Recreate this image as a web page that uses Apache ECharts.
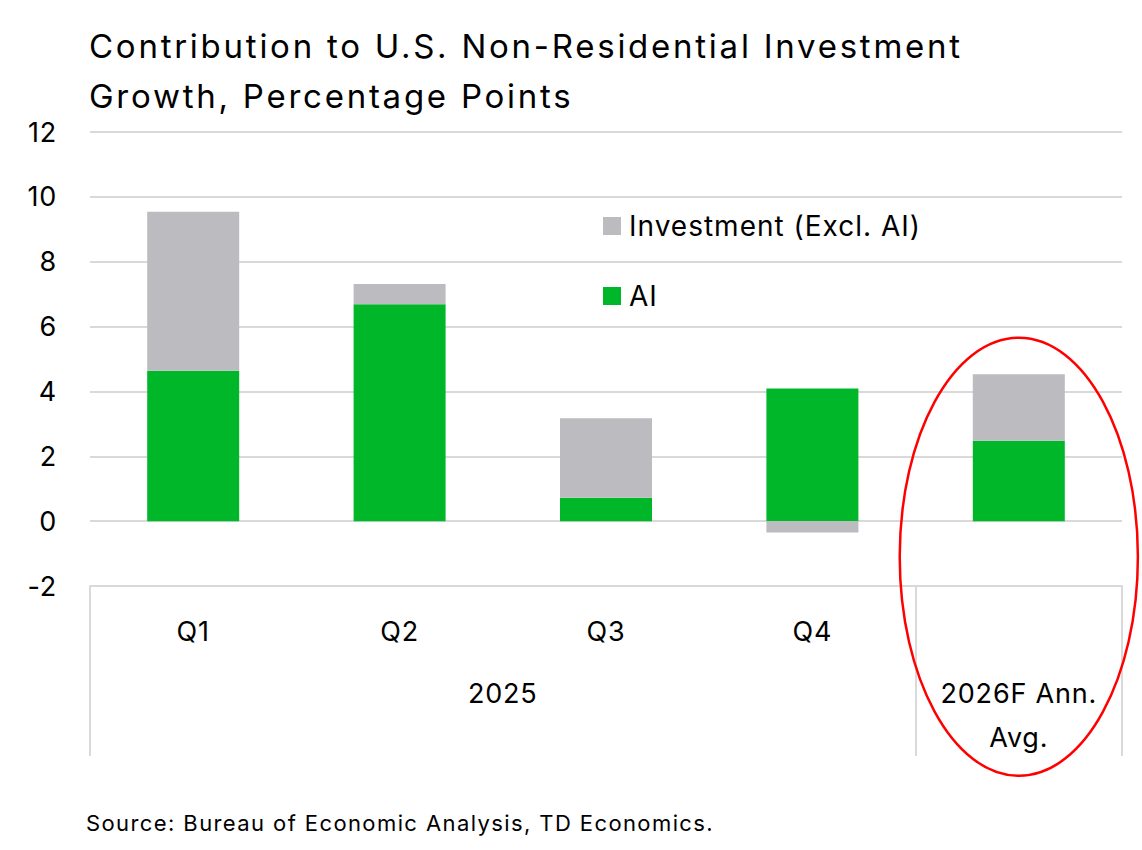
<!DOCTYPE html>
<html>
<head>
<meta charset="utf-8">
<script src="https://cdn.jsdelivr.net/npm/echarts@6/dist/echarts.min.js"></script>
<style>
html,body{margin:0;padding:0;background:#fff;}
#chart{width:1142px;height:850px;}
#chart text[style*="33px"]{letter-spacing:2.75px;}
#chart text[style*="28px"]{letter-spacing:1px;}
#chart text[style*="27px"]{letter-spacing:0.8px;}
#chart text[style*="22px"]{letter-spacing:1.4px;}
</style>
</head>
<body>
<div id="chart"></div>
<script>
// Data
var categories = ['Q1', 'Q2', 'Q3', 'Q4', ''];
var groupLabels = ['', '', '', '', '2025', '', '', '', '', '2026F Ann.\nAvg.', ''];
var groupSeparators = [0, 8, 10];
var aiValues = [4.64, 6.69, 0.72, 4.09, 2.48];
var exAiValues = [4.90, 0.62, 2.45, -0.35, 2.05];
var yTicks = [-2, 0, 2, 4, 6, 8, 10, 12];

var FONT = 'Inter';
var GRID = '#d9d9d9';
var chart = echarts.init(document.getElementById('chart'), null, {renderer: 'svg'});

var option = {
  animation: false,
  backgroundColor: '#ffffff',
  textStyle: {fontFamily: FONT, color: '#000'},
  title: {
    text: 'Contribution to U.S. Non-Residential Investment\nGrowth, Percentage Points',
    left: 84, top: 16,
    textStyle: {fontFamily: FONT, fontSize: 33, fontWeight: 'normal', color: '#000', lineHeight: 50}
  },
  legend: {
    orient: 'vertical',
    left: 598, top: 207,
    itemWidth: 18, itemHeight: 18, itemGap: 42,
    data: ['Investment (Excl. AI)', 'AI'],
    icon: 'rect',
    textStyle: {fontFamily: FONT, fontSize: 28, color: '#000', padding: [0, 0, 0, 3]}
  },
  grid: {left: 90, right: 20, top: 132, bottom: 264, containLabel: false},
  xAxis: [{
    type: 'category',
    data: categories,
    position: 'bottom',
    axisLine: {show: true, onZero: false, lineStyle: {color: GRID, width: 2}},
    axisTick: {show: false},
    axisLabel: {fontFamily: FONT, fontSize: 27, color: '#000', margin: 32, interval: 0}
  }, {
    type: 'category',
    data: groupLabels,
    boundaryGap: false,
    position: 'bottom',
    axisLine: {show: false, onZero: false},
    axisTick: {
      show: true, length: 170,
      interval: function (index) { return groupSeparators.indexOf(index) >= 0; },
      lineStyle: {color: GRID, width: 2}
    },
    axisLabel: {fontFamily: FONT, fontSize: 27, color: '#000', margin: 85, interval: 0, lineHeight: 44, align: 'center'},
    splitLine: {show: false}
  }],
  yAxis: {
    type: 'value',
    min: yTicks[0], max: yTicks[yTicks.length - 1], interval: 2,
    axisLine: {show: false},
    axisTick: {show: false},
    axisLabel: {fontFamily: FONT, fontSize: 27, color: '#000', margin: 33},
    splitLine: {lineStyle: {color: GRID, width: 2}}
  },
  series: [{
    name: 'AI',
    type: 'bar',
    stack: 'total',
    data: aiValues,
    barWidth: 92,
    itemStyle: {color: '#00B72A'}
  }, {
    name: 'Investment (Excl. AI)',
    type: 'bar',
    stack: 'total',
    data: exAiValues,
    barWidth: 92,
    itemStyle: {color: '#BCBCC0'}
  }],
  graphic: []
};
chart.setOption(option);

// Annotation ellipse around the forecast bar, positioned via the chart's scales
var cx = chart.convertToPixel({xAxisIndex: 0}, categories.length - 1);
var cy = chart.convertToPixel({yAxisIndex: 0}, -1.1);
var step = chart.convertToPixel({xAxisIndex: 0}, 1) - chart.convertToPixel({xAxisIndex: 0}, 0);
chart.setOption({
  graphic: [{
    type: 'ellipse',
    shape: {cx: cx, cy: cy, rx: step * 0.577, ry: 219},
    style: {fill: 'none', stroke: '#FF0000', lineWidth: 2.5},
    z: 100
  }, {
    type: 'text',
    left: 86, top: 812,
    style: {text: 'Source: Bureau of Economic Analysis, TD Economics.', font: '22px ' + FONT, fill: '#000'}
  }]
});
</script>
</body>
</html>
